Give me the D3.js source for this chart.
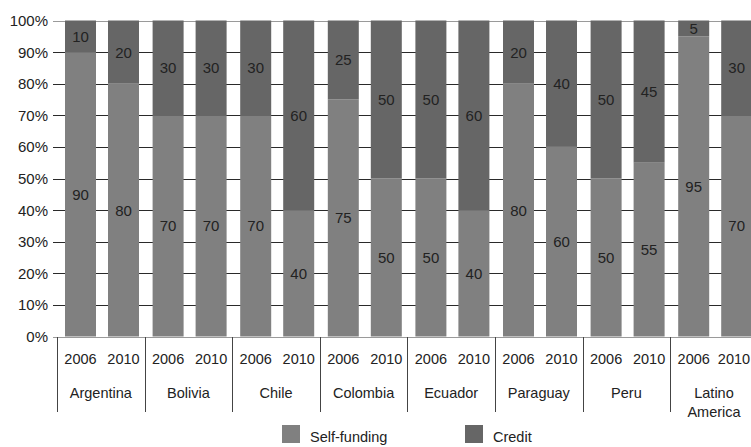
<!DOCTYPE html>
<html><head><meta charset="utf-8">
<script src="https://cdn.jsdelivr.net/npm/d3@7"></script>
<style>
html,body{margin:0;padding:0;background:#fff;overflow:hidden}
text{font-family:"Liberation Sans",Arial,sans-serif;fill:#222}
</style></head>
<body><svg id="c" width="751" height="447"></svg>
<script>
const countries = ["Argentina","Bolivia","Chile","Colombia","Ecuador","Paraguay","Peru","Latino America"];
const years = ["2006","2010"];
const selfFunding = [90,80, 70,70, 70,40, 75,50, 50,40, 80,60, 50,55, 95,70];
const credit      = [10,20, 30,30, 30,60, 25,50, 50,60, 20,40, 50,45, 5,30];
const seriesNames = ["Self-funding","Credit"];
const yTicks = [0,10,20,30,40,50,60,70,80,90,100];

const colors = {"Self-funding":"#808080","Credit":"#666666"};
const svg = d3.select("#c");

const rows = [];
countries.forEach((c,i)=>years.forEach((yr,j)=>{
  const k=i*2+j;
  rows.push({key:c+"|"+yr,country:c,year:yr,"Self-funding":selfFunding[k],"Credit":credit[k]});
}));

const GW = 87.6;
const gx = d3.scaleBand().domain(countries).range([57,57+GW*countries.length]);
const xb = d3.scaleBand().domain(years).range([0,GW]).paddingInner(12/43).paddingOuter(13.6/86).align(8/13.6);
const y = d3.scaleLinear().domain([0,100]).range([336.5,20.5]);

// gridlines
svg.append("g").selectAll("line").data(yTicks).join("line")
  .attr("x1",53).attr("x2",751)
  .attr("y1",d=>Math.round(y(d))+0.5).attr("y2",d=>Math.round(y(d))+0.5)
  .attr("stroke",d=>(d===0||d===100)?"#9a9a9a":"#2a2a2a").attr("stroke-width",1);

svg.append("g").selectAll("text").data(yTicks).join("text")
  .attr("x",48).attr("y",d=>y(d)).attr("dy","0.36em").attr("text-anchor","end")
  .style("font-size","15px").text(d=>d+"%");

const stack = d3.stack().keys(seriesNames)(rows);
const layer = svg.append("g").selectAll("g").data(stack).join("g").attr("fill",d=>colors[d.key]);
layer.selectAll("rect").data(d=>d).join("rect")
  .attr("x",d=>gx(d.data.country)+xb(d.data.year))
  .attr("width",xb.bandwidth())
  .attr("y",d=>y(d[1]))
  .attr("height",d=>y(d[0])-y(d[1]));

// value labels
const lab = svg.append("g");
stack.forEach(s=>{
  lab.selectAll(null).data(s).join("text")
    .attr("x",d=>gx(d.data.country)+xb(d.data.year)+xb.bandwidth()/2)
    .attr("y",d=>y((d[0]+d[1])/2)).attr("dy","0.36em")
    .attr("text-anchor","middle").style("font-size","15px")
    .text(d=>d.data[s.key]);
});

// x axis box
const ax = svg.append("g");
const bounds = countries.map(c=>gx(c)).concat([gx.range()[1]]);
ax.selectAll("line").data(bounds).join("line")
  .attr("x1",d=>Math.round(d)+0.5).attr("x2",d=>Math.round(d)+0.5)
  .attr("y1",337).attr("y2",412).attr("stroke","#444");
ax.selectAll("text.yr").data(rows).join("text").attr("class","yr")
  .attr("x",d=>Math.min(gx(d.country)+xb(d.year)+xb.bandwidth()/2, 734)).attr("y",364)
  .attr("text-anchor","middle").style("font-size","14.5px").text(d=>d.year);
ax.selectAll("text.ct").data(countries).join("text").attr("class","ct")
  .attr("x",d=>gx(d)+GW/2).attr("y",398).attr("text-anchor","middle").style("font-size","14.5px")
  .each(function(d){
    const words=d.split(" ");
    const t=d3.select(this);
    if(words.length>1){
      words.forEach((w,i)=>t.append("tspan").attr("x",gx(d)+GW/2).attr("dy",i?18.7:0).text(w));
    } else t.text(d);
  });

// legend
const lg = svg.append("g");
const legX = [282,465];
seriesNames.forEach((s,i)=>{
  lg.append("rect").attr("x",legX[i]).attr("y",425).attr("width",18).attr("height",18).attr("fill",colors[s]);
  lg.append("text").attr("x",legX[i]+28).attr("y",442).style("font-size","14.5px").text(s);
});
</script></body></html>
